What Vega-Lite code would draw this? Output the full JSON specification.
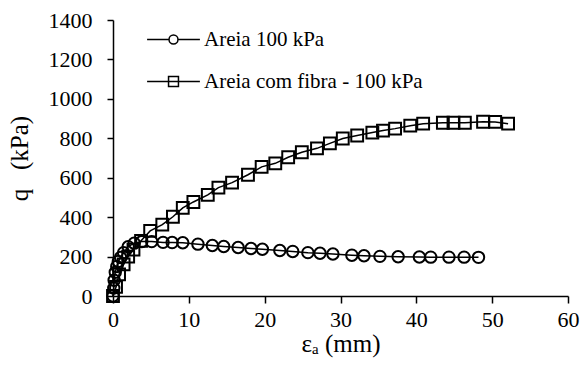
{
  "$schema": "https://vega.github.io/schema/vega-lite/v6.json",
  "width": 455,
  "height": 276,
  "autosize": "none",
  "padding": {"left": 113, "top": 20, "right": 16, "bottom": 80},
  "background": "white",
  "config": {
    "view": {"stroke": null},
    "font": "Liberation Serif",
    "axis": {
      "grid": false,
      "domainColor": "black",
      "domainWidth": 1.5,
      "tickColor": "black",
      "tickWidth": 1.5,
      "labelColor": "black",
      "titleColor": "black",
      "labelFont": "Liberation Serif",
      "titleFont": "Liberation Serif",
      "labelFontSize": 22,
      "titleFontSize": 25,
      "titleFontWeight": "normal"
    }
  },
  "data": {
    "values": [
      {"s": "Areia 100 kPa", "e": 0, "q": 0},
      {"s": "Areia 100 kPa", "e": 0.1, "q": 40},
      {"s": "Areia 100 kPa", "e": 0.15, "q": 80},
      {"s": "Areia 100 kPa", "e": 0.3, "q": 120},
      {"s": "Areia 100 kPa", "e": 0.5, "q": 150},
      {"s": "Areia 100 kPa", "e": 0.7, "q": 175},
      {"s": "Areia 100 kPa", "e": 1.0, "q": 195},
      {"s": "Areia 100 kPa", "e": 1.4, "q": 220},
      {"s": "Areia 100 kPa", "e": 2.0, "q": 250},
      {"s": "Areia 100 kPa", "e": 2.8, "q": 268},
      {"s": "Areia 100 kPa", "e": 3.8, "q": 276},
      {"s": "Areia 100 kPa", "e": 5.1, "q": 276},
      {"s": "Areia 100 kPa", "e": 6.6, "q": 272},
      {"s": "Areia 100 kPa", "e": 7.8, "q": 271},
      {"s": "Areia 100 kPa", "e": 9.2, "q": 270},
      {"s": "Areia 100 kPa", "e": 11.2, "q": 263},
      {"s": "Areia 100 kPa", "e": 13.1, "q": 256},
      {"s": "Areia 100 kPa", "e": 14.6, "q": 251},
      {"s": "Areia 100 kPa", "e": 16.5, "q": 246},
      {"s": "Areia 100 kPa", "e": 18.2, "q": 241},
      {"s": "Areia 100 kPa", "e": 19.7, "q": 237},
      {"s": "Areia 100 kPa", "e": 22.0, "q": 231},
      {"s": "Areia 100 kPa", "e": 23.7, "q": 226},
      {"s": "Areia 100 kPa", "e": 25.7, "q": 220},
      {"s": "Areia 100 kPa", "e": 27.3, "q": 217},
      {"s": "Areia 100 kPa", "e": 29.0, "q": 213},
      {"s": "Areia 100 kPa", "e": 31.5, "q": 207},
      {"s": "Areia 100 kPa", "e": 33.1, "q": 204},
      {"s": "Areia 100 kPa", "e": 35.2, "q": 201},
      {"s": "Areia 100 kPa", "e": 37.6, "q": 199},
      {"s": "Areia 100 kPa", "e": 40.4, "q": 198},
      {"s": "Areia 100 kPa", "e": 41.9, "q": 197},
      {"s": "Areia 100 kPa", "e": 44.3, "q": 197},
      {"s": "Areia 100 kPa", "e": 46.3, "q": 197},
      {"s": "Areia 100 kPa", "e": 48.2, "q": 196},
      {"s": "Areia com fibra - 100 kPa", "e": 0, "q": 0},
      {"s": "Areia com fibra - 100 kPa", "e": 0.4, "q": 46},
      {"s": "Areia com fibra - 100 kPa", "e": 0.8, "q": 110},
      {"s": "Areia com fibra - 100 kPa", "e": 1.4, "q": 160},
      {"s": "Areia com fibra - 100 kPa", "e": 2.0, "q": 200},
      {"s": "Areia com fibra - 100 kPa", "e": 2.7, "q": 235},
      {"s": "Areia com fibra - 100 kPa", "e": 3.7, "q": 280},
      {"s": "Areia com fibra - 100 kPa", "e": 4.9, "q": 330},
      {"s": "Areia com fibra - 100 kPa", "e": 6.5, "q": 362},
      {"s": "Areia com fibra - 100 kPa", "e": 7.9, "q": 402},
      {"s": "Areia com fibra - 100 kPa", "e": 9.2, "q": 447},
      {"s": "Areia com fibra - 100 kPa", "e": 10.6, "q": 477},
      {"s": "Areia com fibra - 100 kPa", "e": 12.5, "q": 513},
      {"s": "Areia com fibra - 100 kPa", "e": 13.9, "q": 550},
      {"s": "Areia com fibra - 100 kPa", "e": 15.7, "q": 575},
      {"s": "Areia com fibra - 100 kPa", "e": 17.8, "q": 615},
      {"s": "Areia com fibra - 100 kPa", "e": 19.6, "q": 655},
      {"s": "Areia com fibra - 100 kPa", "e": 21.4, "q": 673},
      {"s": "Areia com fibra - 100 kPa", "e": 23.1, "q": 704},
      {"s": "Areia com fibra - 100 kPa", "e": 24.9, "q": 729},
      {"s": "Areia com fibra - 100 kPa", "e": 26.9, "q": 749},
      {"s": "Areia com fibra - 100 kPa", "e": 28.6, "q": 774},
      {"s": "Areia com fibra - 100 kPa", "e": 30.3, "q": 799},
      {"s": "Areia com fibra - 100 kPa", "e": 32.2, "q": 814},
      {"s": "Areia com fibra - 100 kPa", "e": 34.2, "q": 829},
      {"s": "Areia com fibra - 100 kPa", "e": 35.6, "q": 839},
      {"s": "Areia com fibra - 100 kPa", "e": 37.2, "q": 849},
      {"s": "Areia com fibra - 100 kPa", "e": 39.2, "q": 864},
      {"s": "Areia com fibra - 100 kPa", "e": 40.9, "q": 874},
      {"s": "Areia com fibra - 100 kPa", "e": 43.5, "q": 879},
      {"s": "Areia com fibra - 100 kPa", "e": 44.9, "q": 879},
      {"s": "Areia com fibra - 100 kPa", "e": 46.4, "q": 879},
      {"s": "Areia com fibra - 100 kPa", "e": 48.8, "q": 884},
      {"s": "Areia com fibra - 100 kPa", "e": 50.4, "q": 883},
      {"s": "Areia com fibra - 100 kPa", "e": 52.1, "q": 874}
    ]
  },
  "encoding": {
    "x": {
      "field": "e",
      "type": "quantitative",
      "scale": {"domain": [0, 60], "nice": false, "zero": false},
      "axis": {
        "title": "εₐ (mm)",
        "values": [0, 10, 20, 30, 40, 50, 60],
        "format": "d",
        "labelFont": "Liberation Serif",
        "titleFont": "Liberation Serif",
        "tickSize": 7,
        "labelPadding": 6,
        "titlePadding": 1,
        "labelFlush": false
      }
    },
    "y": {
      "field": "q",
      "type": "quantitative",
      "scale": {"domain": [0, 1400], "nice": false},
      "axis": {
        "title": "q\u00a0\u00a0\u00a0(kPa)",
        "values": [0, 200, 400, 600, 800, 1000, 1200, 1400],
        "format": "d",
        "labelFont": "Liberation Serif",
        "titleFont": "Liberation Serif",
        "tickSize": 6,
        "labelPadding": 15,
        "titlePadding": 16,
        "labelFlush": false
      }
    }
  },
  "layer": [
    {
      "mark": {"type": "line", "color": "black", "strokeWidth": 1.5},
      "encoding": {"detail": {"field": "s", "type": "nominal"}}
    },
    {
      "transform": [{"filter": "datum.s === 'Areia 100 kPa'"}],
      "mark": {"type": "point", "shape": "circle", "filled": false, "color": "black", "strokeWidth": 2, "opacity": 1, "size": 130}
    },
    {
      "transform": [{"filter": "datum.s === 'Areia com fibra - 100 kPa'"}],
      "mark": {"type": "point", "shape": "square", "filled": false, "color": "black", "strokeWidth": 2, "opacity": 1, "size": 140}
    },
    {
      "transform": [{"filter": "datum.e < 0"}],
      "mark": {"type": "point", "filled": false, "color": "black", "strokeWidth": 1.5, "opacity": 1, "size": 256},
      "encoding": {
        "shape": {
          "field": "s",
          "type": "nominal",
          "scale": {
            "domain": ["Areia 100 kPa", "Areia com fibra - 100 kPa"],
            "range": [
              "M -3.3 0 L -0.56 0 M 0.56 0 L 3.3 0 M -0.56 0 A 0.56 0.56 0 1 1 0.56 0 A 0.56 0.56 0 1 1 -0.56 0 Z",
              "M -3.3 0 L -0.62 0 M 0.62 0 L 3.3 0 M -0.62 -0.62 L 0.62 -0.62 L 0.62 0.62 L -0.62 0.62 Z M -0.62 0 L 0.62 0"
            ]
          },
          "legend": {
            "title": null,
            "orient": "none",
            "legendX": 50,
            "legendY": 9,
            "padding": 0,
            "labelFont": "Liberation Serif",
            "labelFontSize": 21,
            "labelColor": "black",
            "labelLimit": 400,
            "symbolSize": 256,
            "symbolStrokeWidth": 1.5,
            "symbolStrokeColor": "black",
            "symbolFillColor": "transparent",
            "symbolOpacity": 1,
            "labelOffset": 20,
            "rowPadding": 20
          }
        }
      }
    }
  ]
}
